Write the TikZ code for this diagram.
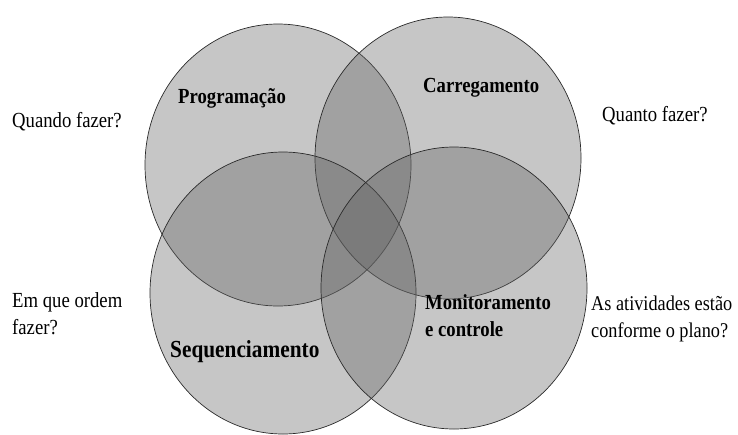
\documentclass[tikz,border=0pt]{standalone}
\usepackage{fontspec}
\setmainfont{Liberation Serif}[FakeStretch=0.87]
\usetikzlibrary{shapes.geometric, positioning}
\definecolor{vennline}{HTML}{2A2A2A}

\begin{document}
\begin{tikzpicture}[x=1pt, y=-1pt]
\tikzstyle{venn} = [ellipse, minimum width=266pt, minimum height=282pt, inner sep=0pt, draw=vennline, line width=0.7pt, fill=black!62, fill opacity=0.36]
\tikzstyle{area} = [anchor=base west, inner sep=0pt, align=left, font=\fontsize{21.5}{27}\selectfont\bfseries]
\tikzstyle{question} = [anchor=base west, inner sep=0pt, align=left, font=\fontsize{21.5}{27}\selectfont]

\useasboundingbox (0,0) rectangle (738,434);

% The four circles
\node (prog) [venn] at (278,165) {};
\node (carr) [venn] at (448,158) {};
\node (seq) [venn] at (283,293) {};
\node (mon) [venn] at (454,288) {};

% Labels inside the circles
\node (progtxt) [area] at (178,103) {Programação};
\node (carrtxt) [area] at (423,92) {Carregamento};
\node (seqtxt) [area, font=\fontsize{24.5}{30}\selectfont\bfseries] at (170,357) {Sequenciamento};
\node (montxt) [area] at (425,336) {Monitoramento\\e controle};

% Questions outside
\node (quando) [question] at (12,127) {Quando fazer?};
\node (quanto) [question] at (602,121) {Quanto fazer?};
\node (ordem) [question] at (12,334) {Em que ordem\\fazer?};
\node (plano) [question, font=\fontsize{21}{27}\selectfont] at (591,337) {As atividades estão\\conforme o plano?};

\end{tikzpicture}
\end{document}
